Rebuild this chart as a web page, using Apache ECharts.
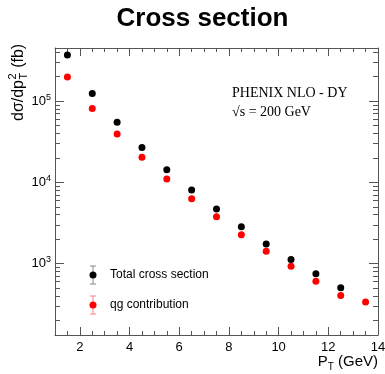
<!DOCTYPE html>
<html><head><meta charset="utf-8">
<script src="https://cdn.jsdelivr.net/npm/echarts@6/dist/echarts.min.js"></script>
<style>html,body{margin:0;padding:0;background:#fff}#c{width:385px;height:374px}</style>
</head><body><div id="c"></div>
<script>
// ---- data ----
const ptBins = [1.5, 2.5, 3.5, 4.5, 5.5, 6.5, 7.5, 8.5, 9.5, 10.5, 11.5, 12.5, 13.5];
const totalXS = [368000, 124000, 54700, 26900, 14300, 8040, 4690, 2840, 1740, 1120, 750, 503];
const qgXS = [198000, 81000, 39300, 20400, 11000, 6280, 3770, 2260, 1420, 926, 604, 405, 336];
const xMajorTicks = [2, 4, 6, 8, 10, 12, 14];
const xMinorTicks = [1, 1.5, 2, 2.5, 3, 3.5, 4, 4.5, 5, 5.5, 6, 6.5, 7, 7.5, 8, 8.5, 9, 9.5, 10, 10.5, 11, 11.5, 12, 12.5, 13, 13.5, 14];
const yMajorTicks = [1000, 10000, 100000];
const yMinorTicks = [200, 300, 400, 500, 600, 700, 800, 900, 2000, 3000, 4000, 5000, 6000, 7000, 8000, 9000,
  20000, 30000, 40000, 50000, 60000, 70000, 80000, 90000, 200000, 300000, 400000];
const seriesNames = ['Total cross section', 'qg contribution'];

// ---- helpers ----
const SANS = 'Liberation Sans, Arial, Helvetica, sans-serif';
const SERIF = 'Liberation Serif, Times New Roman, serif';
const AX = '#555';
const mctx = document.createElement('canvas').getContext('2d');
function tw(text, size, family) { mctx.font = size + 'px ' + family; return mctx.measureText(text).width; }

function xAxisDef(pos, ticks, len, labels) {
  return {
    type: 'value', position: pos, min: 1, max: 14,
    axisLine: { show: labels !== null, onZero: false, lineStyle: { color: AX, width: 1 } },
    axisTick: { show: true, inside: true, length: len, customValues: ticks, lineStyle: { color: AX, width: 1 } },
    axisLabel: labels ? { show: true, customValues: labels, margin: 6, fontSize: 13, color: '#000', fontFamily: SANS } : { show: false },
    splitLine: { show: false }
  };
}
function yAxisDef(pos, ticks, len, labels) {
  return {
    type: 'log', logBase: 10, position: pos, min: 132, max: 450000,
    axisLine: { show: labels !== null, onZero: false, lineStyle: { color: AX, width: 1 } },
    axisTick: { show: true, inside: true, length: len, customValues: ticks, lineStyle: { color: AX, width: 1 } },
    axisLabel: labels ? {
      show: true, customValues: labels, margin: 4, color: '#000', fontFamily: SANS,
      formatter: v => '{b|10}{s|' + Math.round(Math.log10(v)) + '}',
      rich: { b: { fontSize: 13, fontFamily: SANS, color: '#000' }, s: { fontSize: 9, fontFamily: SANS, color: '#000', padding: [0, 0, 8, 0] } }
    } : { show: false },
    splitLine: { show: false }
  };
}

// ---- titles built from text parts ----
const graphics = [];
graphics.push({ type: 'text', x: 202.5, y: 19, style: { text: 'Cross section', font: 'bold 26px ' + SANS, fill: '#000', align: 'center', verticalAlign: 'middle' } });
graphics.push({ type: 'text', x: 232, y: 93, style: { text: 'PHENIX NLO - DY', font: '14px ' + SERIF, fill: '#000', align: 'left', verticalAlign: 'middle' } });
graphics.push({ type: 'text', x: 232, y: 112, style: { text: '\u221As = 200 GeV', font: '14px ' + SERIF, fill: '#000', align: 'left', verticalAlign: 'middle' } });

// x title: P_T (GeV), right aligned
(function () {
  const fs = 15, fsS = 10, right = 378, yMid = 362;
  const w3 = tw(' (GeV)', fs, SANS), w2 = tw('T', fsS, SANS), w1 = tw('P', fs, SANS);
  let x = right - w3 - w2 - w1;
  graphics.push({ type: 'text', x: x, y: yMid, style: { text: 'P', font: fs + 'px ' + SANS, fill: '#000', verticalAlign: 'middle' } });
  graphics.push({ type: 'text', x: x + w1, y: yMid + 5, style: { text: 'T', font: fsS + 'px ' + SANS, fill: '#000', verticalAlign: 'middle' } });
  graphics.push({ type: 'text', x: x + w1 + w2, y: yMid, style: { text: ' (GeV)', font: fs + 'px ' + SANS, fill: '#000', verticalAlign: 'middle' } });
})();

// y title: dσ/dp^2_T (fb), rotated
(function () {
  const fs = 16, fsS = 11;
  const w1 = tw('d\u03C3/dp', fs, SANS), wS = Math.max(tw('2', fsS, SANS), tw('T', fsS, SANS));
  const children = [
    { type: 'text', x: 0, y: 0, style: { text: 'd\u03C3/dp', font: fs + 'px ' + SANS, fill: '#000', verticalAlign: 'middle' } },
    { type: 'text', x: w1 + 0.5, y: -6, style: { text: '2', font: fsS + 'px ' + SANS, fill: '#000', verticalAlign: 'middle' } },
    { type: 'text', x: w1 + 0.5, y: 5, style: { text: 'T', font: fsS + 'px ' + SANS, fill: '#000', verticalAlign: 'middle' } },
    { type: 'text', x: w1 + wS + 1, y: 0, style: { text: ' (fb)', font: fs + 'px ' + SANS, fill: '#000', verticalAlign: 'middle' } }
  ];
  graphics.push({ type: 'group', x: 19, y: 121, rotation: Math.PI / 2, children: children });
})();

// legend
(function () {
  const entries = [
    { name: seriesNames[0], marker: '#000', bar: '#888', y: 275 },
    { name: seriesNames[1], marker: '#ff0000', bar: '#ff8080', y: 305 }
  ];
  entries.forEach(e => {
    const cx = 93;
    graphics.push({ type: 'line', shape: { x1: cx, y1: e.y - 9, x2: cx, y2: e.y + 9 }, style: { stroke: e.bar, lineWidth: 1 } });
    graphics.push({ type: 'line', shape: { x1: cx - 3, y1: e.y - 9, x2: cx + 3, y2: e.y - 9 }, style: { stroke: e.bar, lineWidth: 1 } });
    graphics.push({ type: 'line', shape: { x1: cx - 3, y1: e.y + 9, x2: cx + 3, y2: e.y + 9 }, style: { stroke: e.bar, lineWidth: 1 } });
    graphics.push({ type: 'circle', shape: { cx: cx, cy: e.y, r: 3.5 }, style: { fill: e.marker } });
    graphics.push({ type: 'text', x: 110, y: e.y, style: { text: e.name, font: '12px ' + SANS, fill: '#000', verticalAlign: 'middle' } });
  });
})();

const chart = echarts.init(document.getElementById('c'), null, { renderer: 'canvas' });
chart.setOption({
  animation: false,
  backgroundColor: '#fff',
  grid: { left: 55, right: 7, top: 48, bottom: 39, containLabel: false, outerBoundsMode: 'none' },
  xAxis: [
    xAxisDef('bottom', xMajorTicks, 8, xMajorTicks),
    xAxisDef('bottom', xMinorTicks, 4, null),
    Object.assign(xAxisDef('top', xMajorTicks, 8, null), { axisLine: { show: true, onZero: false, lineStyle: { color: AX, width: 1 } } }),
    xAxisDef('top', xMinorTicks, 4, null)
  ],
  yAxis: [
    yAxisDef('left', yMajorTicks, 9, yMajorTicks),
    yAxisDef('left', yMinorTicks, 5, null),
    Object.assign(yAxisDef('right', yMajorTicks, 9, null), { axisLine: { show: true, onZero: false, lineStyle: { color: AX, width: 1 } } }),
    yAxisDef('right', yMinorTicks, 5, null)
  ],
  series: [
    { name: seriesNames[1], type: 'scatter', xAxisIndex: 0, yAxisIndex: 0, symbol: 'circle', symbolSize: 7,
      itemStyle: { color: '#ff0000', opacity: 1 }, data: qgXS.map((v, i) => [ptBins[i], v]) },
    { name: seriesNames[0], type: 'scatter', xAxisIndex: 0, yAxisIndex: 0, symbol: 'circle', symbolSize: 7,
      itemStyle: { color: '#000', opacity: 1 }, data: totalXS.map((v, i) => [ptBins[i], v]) }
  ],
  graphic: graphics
});
</script></body></html>
